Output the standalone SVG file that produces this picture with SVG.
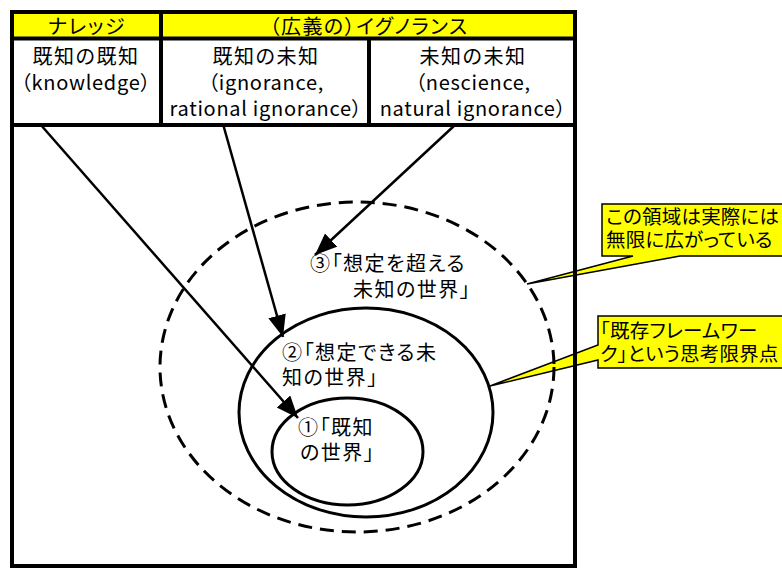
<svg xmlns="http://www.w3.org/2000/svg" width="782" height="568" viewBox="0 0 782 568">
<style>
.jp{font-family:"Noto Sans CJK JP","Noto Sans CJK SC",sans-serif;font-size:20px;letter-spacing:1.5px;font-feature-settings:"palt";fill:#000}
.lt{font-family:"Noto Sans CJK JP","Noto Sans CJK SC",sans-serif;font-size:20px;letter-spacing:0.7px;font-feature-settings:"palt";fill:#000}
.cj{font-family:"Noto Sans CJK JP","Noto Sans CJK SC",sans-serif;font-size:19.5px;letter-spacing:0.2px;font-feature-settings:"palt";fill:#000}
.c{text-anchor:middle}
.frame{fill:none;stroke:#000;stroke-width:4}
.call{fill:#FFFF00;stroke:#000;stroke-width:1.5;stroke-linejoin:miter}
.conn{stroke:#000;stroke-width:2.5;fill:none;marker-end:url(#ah)}
.sol{fill:none;stroke:#000;stroke-width:3}
.dash{fill:none;stroke:#000;stroke-width:3;stroke-dasharray:14 8}
</style>
<defs>
<marker id="ah" markerUnits="userSpaceOnUse" markerWidth="24" markerHeight="20" refX="22" refY="9" orient="auto">
<path d="M0,0 L22,9 L0,18 Z" fill="#000"/>
</marker>
</defs>
<rect x="0" y="0" width="782" height="568" fill="#fff"/>

<g id="callout-infinite">
<path class="call" d="M602,204 H800 V256 H680 L527,284 L633,256 H602 Z"/>
<text class="cj" x="606" y="224">この領域は実際には</text>
<text class="cj" x="606" y="247">無限に広がっている</text>
</g>
<g id="callout-framework">
<path class="call" d="M598,316 H800 V368 H598 V360 L490,386 L598,345 Z"/>
<text class="cj" x="600" y="338">「既存フレームワー</text>
<text class="cj" x="600" y="361">ク」という思考限界点</text>
</g>

<g id="header">
<rect x="14" y="14" width="146" height="24" fill="#FFFF00"/>
<rect x="162" y="14" width="412" height="24" fill="#FFFF00"/>
<rect class="frame" x="12" y="12" width="563" height="554"/>
<line x1="12" y1="38.5" x2="575" y2="38.5" stroke="#000" stroke-width="4"/>
<line x1="161" y1="12" x2="161" y2="125" stroke="#000" stroke-width="4"/>
<line x1="369" y1="38" x2="369" y2="125" stroke="#000" stroke-width="4"/>
<line x1="12" y1="125" x2="575" y2="125" stroke="#000" stroke-width="4"/>
<text class="jp c" x="87" y="34">ナレッジ</text>
<text class="jp c" x="369" y="34">（広義の）イグノランス</text>
</g>

<g id="cell-knowledge">
<text class="jp c" x="86" y="64">既知の既知</text>
<text class="lt c" x="86" y="90">（knowledge）</text>
</g>
<g id="cell-ignorance">
<text class="jp c" x="266" y="64">既知の未知</text>
<text class="lt c" x="266" y="90">（ignorance,</text>
<text class="lt c" x="266" y="116">rational ignorance）</text>
</g>
<g id="cell-nescience">
<text class="jp c" x="473" y="64">未知の未知</text>
<text class="lt c" x="473" y="90">（nescience,</text>
<text class="lt c" x="473" y="116">natural ignorance）</text>
</g>

<g id="world3">
<ellipse class="dash" cx="357" cy="367" rx="197" ry="165"/>
<text class="jp" x="310" y="271">③「想定を超える</text>
<text class="jp" x="353" y="297">未知の世界」</text>
</g>
<g id="world2">
<ellipse class="sol" cx="366" cy="412.5" rx="127" ry="104.5"/>
<text class="jp" x="282" y="360">②「想定できる未</text>
<text class="jp" x="282" y="385">知の世界」</text>
</g>
<g id="world1">
<ellipse class="sol" cx="347.5" cy="451.5" rx="75.5" ry="53.5"/>
<text class="jp" x="298" y="435">①「既知</text>
<text class="jp" x="300" y="460">の世界」</text>
</g>

<g id="connectors">
<line class="conn" x1="40" y1="124" x2="298" y2="418"/>
<line class="conn" x1="223" y1="124" x2="283" y2="337"/>
<line class="conn" x1="455" y1="125" x2="315" y2="255"/>
</g>
</svg>
